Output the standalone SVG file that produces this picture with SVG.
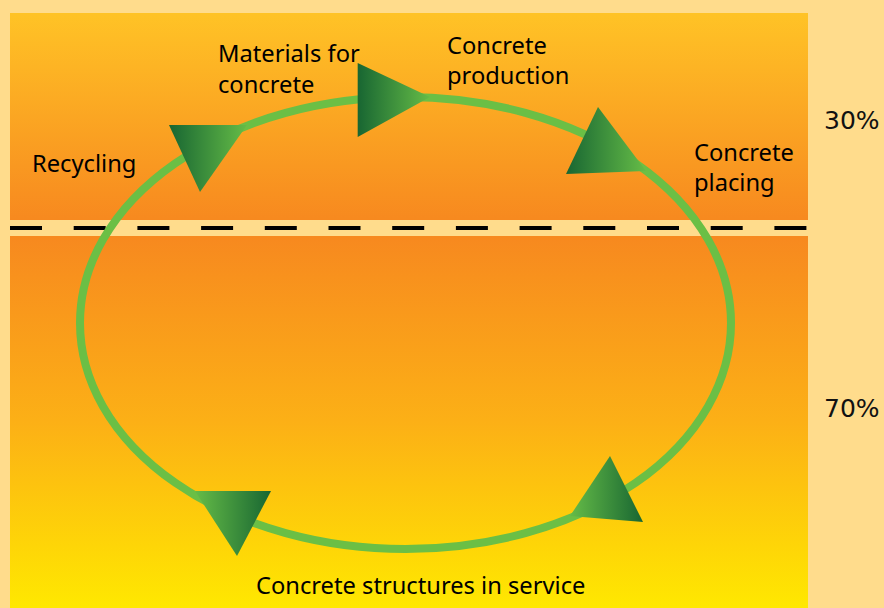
<svg xmlns="http://www.w3.org/2000/svg" width="884" height="608" viewBox="0 0 884 608">
<defs>
<linearGradient id="gTop" x1="0" y1="0" x2="0" y2="1">
<stop offset="0" stop-color="#FFC326"/>
<stop offset="1" stop-color="#F7891F"/>
</linearGradient>
<linearGradient id="gBot" x1="0" y1="0" x2="0" y2="1">
<stop offset="0" stop-color="#F7891F"/>
<stop offset="0.5" stop-color="#FCB016"/>
<stop offset="1" stop-color="#FFE800"/>
</linearGradient>
<linearGradient id="gDL" x1="0" y1="0" x2="1" y2="0">
<stop offset="0" stop-color="#186632"/>
<stop offset="1" stop-color="#65BC47"/>
</linearGradient>
<linearGradient id="gLD" x1="0" y1="0" x2="1" y2="0">
<stop offset="0" stop-color="#65BC47"/>
<stop offset="1" stop-color="#186632"/>
</linearGradient>
<style>
text{font-family:"Noto Sans","Open Sans","DejaVu Sans",sans-serif;font-size:23.7px;fill:#000}
text.pct{font-family:"DejaVu Sans","Noto Sans",sans-serif;font-size:25px;fill:#111}
.ring{fill:none;stroke:#6BBF45;stroke-width:8}
.dash{stroke:#000;stroke-width:4;stroke-dasharray:32 31.7}
</style>
</defs>
<rect width="884" height="608" fill="#FFDC8C"/>
<rect x="10" y="13" width="798" height="207" fill="url(#gTop)"/>
<rect x="10" y="236" width="798" height="372" fill="url(#gBot)"/>
<line class="dash" x1="10" y1="228" x2="808" y2="228"/>
<g id="connectors">
<ellipse class="ring" cx="405.5" cy="323" rx="325.5" ry="226"/>
<polygon points="169,125 247,125 200,192" fill="url(#gDL)"/>
<polygon points="357.7,63 357.7,137 430,97" fill="url(#gDL)"/>
<polygon points="598,107 566,174 646,171" fill="url(#gDL)"/>
<polygon points="610,456 570,516 643,522" fill="url(#gLD)"/>
<polygon points="195,491 271,491 237,556" fill="url(#gLD)"/>
</g>
<g id="materials"><text x="218" y="62">Materials for</text><text x="218" y="93">concrete</text></g>
<g id="production"><text x="447" y="54">Concrete</text><text x="447" y="84">production</text></g>
<g id="placing"><text x="694" y="161">Concrete</text><text x="694" y="191">placing</text></g>
<g id="recycling"><text x="32" y="172">Recycling</text></g>
<g id="service"><text x="256" y="594">Concrete structures in service</text></g>
<g id="pct30"><text class="pct" x="824" y="129">30%</text></g>
<g id="pct70"><text class="pct" x="824" y="417">70%</text></g>
</svg>
